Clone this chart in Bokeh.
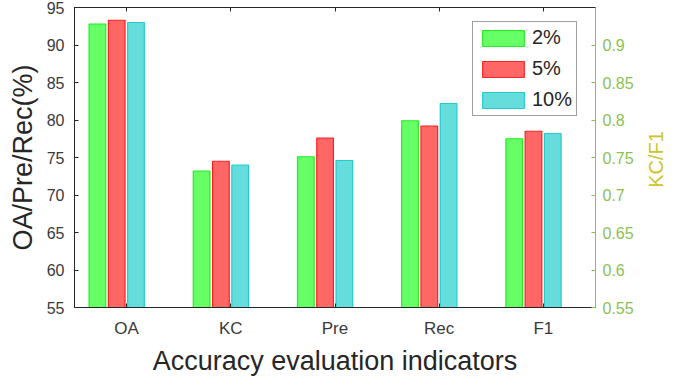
import math
from bokeh.plotting import figure
from bokeh.layouts import row
from bokeh.models import (ColumnDataSource, Range1d, LinearAxis, FixedTicker,
                          Legend, LegendItem)
from bokeh.core.properties import value
from bokeh.transform import dodge
from bokeh.embed import file_html
from bokeh.resources import INLINE

indicators = ["OA", "KC", "Pre", "Rec", "F1"]
rate_2 = [92.8, 73.2, 75.1, 79.9, 77.5]
rate_5 = [93.3, 74.5, 77.6, 79.2, 78.5]
rate_10 = [93.0, 74.0, 74.6, 82.2, 78.2]
series_names = ["2%", "5%", "10%"]

left_ticks = [55, 60, 65, 70, 75, 80, 85, 90, 95]
right_ticks = [0.55, 0.6, 0.65, 0.7, 0.75, 0.8, 0.85, 0.9]
right_title = "KC/F1"

FONT = "Liberation Sans"
DARK = "#262626"
TICK_TEXT = "#3a3a3a"
RIGHT_GREEN = "#8cc152"
RIGHT_LABEL = "#cdc42c"

W_MAIN, W_SIDE, H = 640, 39, 378

pos = list(range(1, len(indicators) + 1))
src = ColumnDataSource(dict(x=pos, a=rate_2, b=rate_5, c=rate_10))

p = figure(width=W_MAIN, height=H, output_backend="svg", toolbar_location=None,
           x_range=Range1d(0.5, 5.5), y_range=Range1d(55, 95))
p.min_border_left = 74
p.min_border_right = 45
p.min_border_top = 7
p.min_border_bottom = 66
p.outline_line_color = DARK
p.outline_line_width = 1
p.grid.visible = False
p.background_fill_color = "white"
p.border_fill_color = "white"

styles = [
    ("a", -0.28, "#66ff66", "#22ee22"),
    ("b", -0.095, "#ff6666", "#ff2020"),
    ("c", 0.09, "#66dddd", "#22cccc"),
]
renderers = []
for col, off, fill, line in styles:
    r = p.vbar(x=dodge("x", off, range=p.x_range), top=col, bottom=0, width=0.16,
               source=src, fill_color=fill, line_color=line, line_width=1.2)
    renderers.append(r)

# bottom category axis
xa = p.xaxis[0]
xa.ticker = FixedTicker(ticks=pos)
xa.major_label_overrides = {i + 1: s for i, s in enumerate(indicators)}
xa.axis_label = "Accuracy evaluation indicators"
xa.axis_label_text_font = FONT
xa.axis_label_text_font_size = "27px"
xa.axis_label_text_font_style = "normal"
xa.axis_label_text_color = DARK
xa.axis_label_standoff = 5
xa.major_label_text_font = FONT
xa.major_label_text_font_size = "17px"
xa.major_label_text_color = TICK_TEXT
xa.major_label_standoff = 11
xa.major_tick_in = 4
xa.major_tick_out = 0
xa.minor_tick_line_color = None
xa.axis_line_color = DARK
xa.major_tick_line_color = DARK

# left axis
ya = p.yaxis[0]
ya.ticker = FixedTicker(ticks=left_ticks)
ya.axis_label = "OA/Pre/Rec(%)"
ya.axis_label_text_font = FONT
ya.axis_label_text_font_size = "27px"
ya.axis_label_text_font_style = "normal"
ya.axis_label_text_color = DARK
ya.axis_label_standoff = 6
ya.major_label_text_font = FONT
ya.major_label_text_font_size = "16px"
ya.major_label_text_color = TICK_TEXT
ya.major_label_standoff = 10
ya.major_tick_in = 4
ya.major_tick_out = 0
ya.minor_tick_line_color = None
ya.axis_line_color = DARK
ya.major_tick_line_color = DARK

# mirrored ticks along the top edge
top = LinearAxis(ticker=FixedTicker(ticks=pos), major_label_text_color=None,
                 major_tick_in=4, major_tick_out=0, minor_tick_line_color=None,
                 axis_line_color=DARK, major_tick_line_color=DARK)
p.add_layout(top, "above")

# right axis for KC/F1
p.extra_y_ranges = {"ratio": Range1d(0.55, 0.95)}
ra = LinearAxis(y_range_name="ratio", ticker=FixedTicker(ticks=right_ticks))
ra.major_label_text_font = FONT
ra.major_label_text_font_size = "16px"
ra.major_label_text_color = RIGHT_GREEN
ra.major_label_standoff = 7
ra.major_tick_in = 4
ra.major_tick_out = 0
ra.minor_tick_line_color = None
ra.axis_line_color = RIGHT_GREEN
ra.major_tick_line_color = RIGHT_GREEN
p.add_layout(ra, "right")

legend = Legend(items=[LegendItem(label=n, renderers=[r])
                       for n, r in zip(series_names, renderers)],
                location=(398, 191))
legend.label_text_font = FONT
legend.label_text_font_size = "20px"
legend.label_text_color = DARK
legend.glyph_width = 52
legend.glyph_height = 20
legend.spacing = 8
legend.padding = 4
legend.margin = 0
legend.label_standoff = 3
legend.border_line_color = "#404040"
legend.border_line_width = 1
legend.background_fill_alpha = 1
p.add_layout(legend, "center")

# narrow strip holding the right-hand axis title, reading bottom to top;
# the row aligns its frame with the main plot's frame, so it shares the y range
side = figure(width=W_SIDE, height=H, output_backend="svg", toolbar_location=None,
              x_range=Range1d(0, W_SIDE), y_range=p.y_range,
              x_axis_type=None, y_axis_type=None, min_border=0)
side.outline_line_color = None
side.grid.visible = False
mid = (left_ticks[0] + left_ticks[-1]) / 2
side.text(x=[15.5], y=[mid - 0.25], text=[right_title], angle=math.pi / 2,
          text_font=value(FONT), text_font_size="20px", text_color=RIGHT_LABEL,
          text_align="center", text_baseline="middle")

layout = row(p, side, spacing=0)
open("out.html", "w").write(file_html(layout, INLINE))
